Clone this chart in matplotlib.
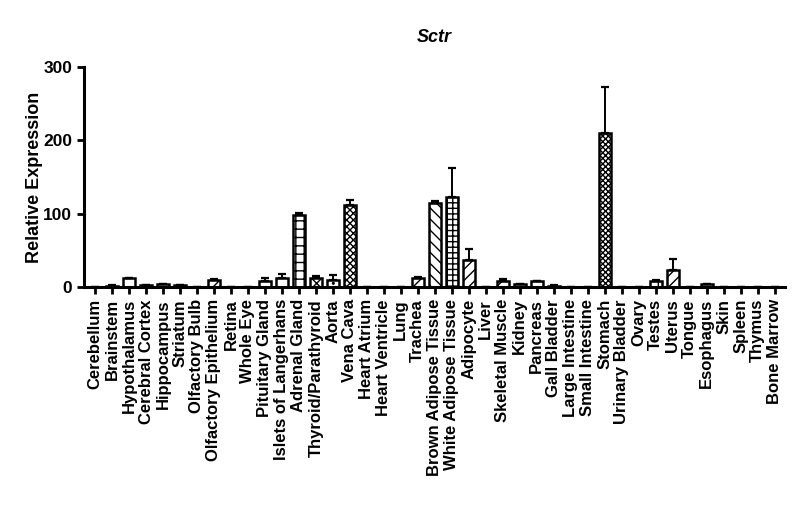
import numpy as np
import matplotlib.pyplot as plt

plt.rcParams['font.family'] = ['Liberation Sans', 'DejaVu Sans']
plt.rcParams['font.weight'] = 'bold'
plt.rcParams['hatch.linewidth'] = 1.0

tissues = ['Cerebellum', 'Brainstem', 'Hypothalamus', 'Cerebral Cortex', 'Hippocampus',
           'Striatum', 'Olfactory Bulb', 'Olfactory Epithelium', 'Retina', 'Whole Eye',
           'Pituitary Gland', 'Islets of Langerhans', 'Adrenal Gland', 'Thyroid/Parathyroid',
           'Aorta', 'Vena Cava', 'Heart Atrium', 'Heart Ventricle', 'Lung', 'Trachea',
           'Brown Adipose Tissue', 'White Adipose Tissue', 'Adipocyte', 'Liver',
           'Skeletal Muscle', 'Kidney', 'Pancreas', 'Gall Bladder', 'Large Intestine',
           'Small Intestine', 'Stomach', 'Urinary Bladder', 'Ovary', 'Testes', 'Uterus',
           'Tongue', 'Esophagus', 'Skin', 'Spleen', 'Thymus', 'Bone Marrow']
expr = [0.3, 2, 12, 3, 4, 3, 0.5, 10, 0.5, 0.5,
        8, 13, 98, 13, 10, 112, 0.5, 0.5, 0.5, 12,
        115, 123, 37, 0.5, 9, 4, 8, 2, 0.5, 0.5,
        210, 0.5, 0.5, 9, 23, 0.5, 4, 0.5, 0.5, 0.5, 0.5]
sem = [0, 0.5, 1, 0.5, 0.5, 0.5, 0, 1, 0, 0,
       4, 5, 3, 2, 6, 7, 0, 0, 0, 2,
       2, 40, 15, 0, 2, 1, 1, 0.5, 0, 0,
       63, 0, 0, 1, 16, 0, 1, 0, 0, 0, 0]
hatches = ['', '', '-', '', '', '', '', '//', '', '',
           '+', '-', '++', 'x', '..', 'xxxxx', '', '', '', '//',
           '\\\\\\', '+++', '///', '', '//', '', '-', '', '', '',
           'xxxxxx', '', '', '+', '///', '', '-', '', '', '', '']

fig = plt.figure(figsize=(8, 5.28), dpi=100)
ax = fig.add_axes([0.105, 0.456, 0.876, 0.417])

x = np.arange(len(tissues))
ax.bar(x, expr, width=0.72, color='white', edgecolor='black', linewidth=1.8,
       hatch=hatches, zorder=2)
ax.errorbar(x, expr, yerr=[np.zeros(len(sem)), sem], fmt='none', ecolor='black',
            elinewidth=1.4, capsize=3, capthick=1.6, zorder=3)

ax.set_xlim(-0.65, 40.6)
ax.set_ylim(0, 300)
ax.set_yticks([0, 100, 200, 300])
ax.set_xticks(x)
ax.set_xticklabels(tissues, rotation=90, fontsize=12, fontweight='bold')
ax.tick_params(axis='y', labelsize=12.5, width=2, length=5)
ax.tick_params(axis='x', width=2, length=5)
for lab in ax.get_yticklabels():
    lab.set_fontweight('bold')
ax.spines['top'].set_visible(False)
ax.spines['right'].set_visible(False)
ax.spines['left'].set_linewidth(2.2)
ax.spines['bottom'].set_linewidth(2.2)
ax.set_ylabel('Relative Expression', fontsize=13, fontweight='bold')
ax.yaxis.set_label_coords(-0.058, 0.5)
ax.set_title('Sctr', fontsize=13, fontweight='bold', fontstyle='italic', pad=18)

fig.savefig('out.png', dpi=100)
